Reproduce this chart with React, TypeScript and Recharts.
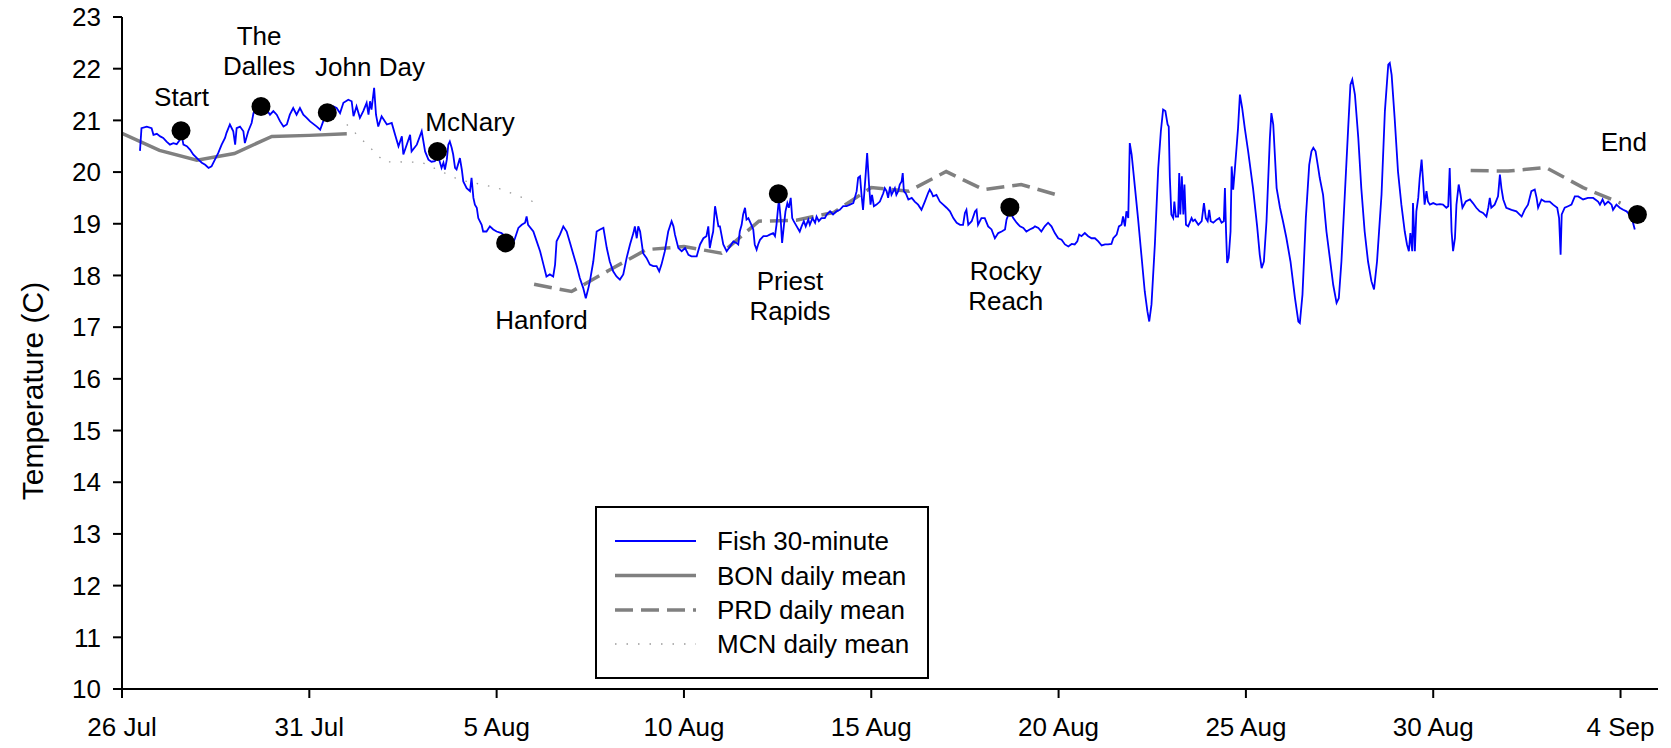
import React from "react";
import { ComposedChart, Line, Scatter, XAxis, YAxis } from "recharts";

const FONT = "'Liberation Sans', Arial, Helvetica, sans-serif";

// x = days since 26 Jul
const xTicks = [0, 5, 10, 15, 20, 25, 30, 35, 40];
const xTickLabels = ["26 Jul", "31 Jul", "5 Aug", "10 Aug", "15 Aug", "20 Aug", "25 Aug", "30 Aug", "4 Sep"];
const yTicks = [10, 11, 12, 13, 14, 15, 16, 17, 18, 19, 20, 21, 22, 23];

// Fish 30-minute temperature (day, temp)
const fishSeries: [number, number][] = [
  [0.48, 20.41], [0.52, 20.85], [0.66, 20.88], [0.79, 20.85], [0.84, 20.72], [0.93, 20.74], [1.02, 20.69], [1.10, 20.66],
  [1.19, 20.59], [1.28, 20.53], [1.37, 20.56], [1.46, 20.54], [1.55, 20.63], [1.59, 20.72], [1.64, 20.53], [1.73, 20.50],
  [1.82, 20.43], [1.90, 20.34], [2.04, 20.24], [2.13, 20.18], [2.22, 20.14], [2.31, 20.08], [2.39, 20.11], [2.48, 20.24],
  [2.57, 20.37], [2.66, 20.53], [2.75, 20.66], [2.79, 20.76], [2.88, 20.92], [2.97, 20.79], [3.02, 20.53], [3.06, 20.85],
  [3.15, 20.88], [3.24, 20.79], [3.28, 20.56], [3.37, 20.79], [3.46, 20.95], [3.51, 21.14], [3.60, 21.27], [3.68, 21.24],
  [3.77, 21.27], [3.86, 21.21], [3.95, 21.11], [4.04, 21.18], [4.13, 21.11], [4.22, 20.98], [4.31, 20.88], [4.40, 20.92],
  [4.48, 21.11], [4.57, 21.24], [4.66, 21.11], [4.75, 21.24], [4.84, 21.11], [4.93, 21.05], [5.02, 20.98], [5.20, 20.88],
  [5.29, 20.82], [5.37, 20.98], [5.46, 21.14], [5.64, 21.27], [5.73, 21.24], [5.82, 21.14], [5.91, 21.34], [6.04, 21.40],
  [6.13, 21.37], [6.18, 21.08], [6.26, 21.27], [6.35, 21.05], [6.44, 21.18], [6.53, 21.34], [6.58, 21.11], [6.62, 21.37],
  [6.66, 21.21], [6.73, 21.63], [6.78, 21.11], [6.84, 20.88], [6.93, 21.08], [7.07, 20.92], [7.20, 20.95], [7.29, 20.72],
  [7.38, 20.50], [7.47, 20.69], [7.51, 20.34], [7.60, 20.53], [7.69, 20.72], [7.73, 20.40], [7.87, 20.53], [8.00, 20.79],
  [8.09, 20.40], [8.18, 20.24], [8.26, 20.20], [8.35, 20.21], [8.44, 20.30], [8.53, 20.08], [8.58, 20.18], [8.62, 20.05],
  [8.67, 20.24], [8.71, 20.53], [8.75, 20.59], [8.80, 20.47], [8.84, 20.34], [8.89, 20.08], [8.93, 20.05], [9.02, 20.27],
  [9.07, 20.05], [9.11, 19.82], [9.20, 19.69], [9.29, 19.63], [9.33, 19.89], [9.38, 19.50], [9.42, 19.37], [9.47, 19.31],
  [9.51, 19.11], [9.60, 18.98], [9.64, 18.85], [9.73, 18.85], [9.82, 18.95], [9.91, 18.89], [10.00, 18.85], [10.13, 18.82],
  [10.22, 18.76], [10.31, 18.66], [10.40, 18.56], [10.49, 18.72], [10.58, 18.92], [10.67, 18.98], [10.76, 19.02], [10.80, 19.14],
  [10.84, 18.98], [10.98, 18.85], [11.07, 18.66], [11.16, 18.47], [11.25, 18.21], [11.33, 17.98], [11.42, 18.02], [11.51, 17.98],
  [11.56, 18.21], [11.60, 18.66], [11.69, 18.79], [11.78, 18.95], [11.87, 18.85], [11.96, 18.63], [12.05, 18.40], [12.14, 18.18],
  [12.22, 17.95], [12.31, 17.76], [12.38, 17.56], [12.45, 17.76], [12.49, 17.89], [12.58, 18.27], [12.67, 18.85], [12.76, 18.89],
  [12.85, 18.92], [12.94, 18.53], [13.02, 18.27], [13.11, 18.08], [13.20, 17.98], [13.29, 17.92], [13.38, 18.02], [13.47, 18.34],
  [13.56, 18.60], [13.65, 18.82], [13.69, 18.95], [13.74, 18.72], [13.78, 18.95], [13.83, 18.85], [13.91, 18.43], [14.00, 18.34],
  [14.09, 18.21], [14.18, 18.18], [14.27, 18.18], [14.34, 18.08], [14.40, 18.21], [14.49, 18.47], [14.58, 18.85], [14.67, 19.05],
  [14.72, 18.95], [14.76, 18.79], [14.85, 18.53], [14.94, 18.47], [15.03, 18.53], [15.12, 18.40], [15.20, 18.37], [15.34, 18.37],
  [15.43, 18.60], [15.52, 18.72], [15.60, 18.76], [15.65, 18.95], [15.69, 18.53], [15.74, 18.72], [15.78, 18.85], [15.83, 19.34],
  [15.92, 18.95], [15.96, 18.95], [16.05, 18.60], [16.14, 18.47], [16.23, 18.56], [16.32, 18.66], [16.40, 18.63], [16.45, 18.60],
  [16.49, 18.85], [16.54, 18.98], [16.58, 19.18], [16.63, 19.31], [16.67, 19.08], [16.72, 19.11], [16.80, 18.98], [16.85, 18.89],
  [16.89, 18.60], [16.94, 18.50], [16.98, 18.60], [17.03, 18.69], [17.12, 18.76], [17.21, 18.76], [17.29, 18.79], [17.38, 18.82],
  [17.43, 18.76], [17.47, 18.98], [17.52, 19.37], [17.54, 19.43], [17.58, 19.11], [17.62, 18.63], [17.67, 18.98], [17.71, 19.24],
  [17.76, 19.40], [17.80, 19.31], [17.85, 19.50], [17.89, 19.11], [17.93, 19.05], [18.01, 18.95], [18.09, 18.85], [18.14, 18.95],
  [18.20, 19.05], [18.25, 18.95], [18.32, 19.08], [18.36, 18.98], [18.43, 19.11], [18.50, 19.02], [18.54, 19.14], [18.60, 19.05],
  [18.67, 19.11], [18.76, 19.11], [18.81, 19.18], [18.90, 19.24], [18.98, 19.18], [19.07, 19.24], [19.16, 19.27], [19.25, 19.34],
  [19.34, 19.34], [19.43, 19.37], [19.52, 19.40], [19.56, 19.50], [19.61, 19.63], [19.65, 19.89], [19.70, 19.92], [19.74, 19.56],
  [19.78, 19.27], [19.85, 19.95], [19.89, 20.37], [19.94, 19.76], [19.98, 19.37], [20.02, 19.56], [20.07, 19.34], [20.14, 19.37],
  [20.23, 19.43], [20.32, 19.59], [20.36, 19.69], [20.41, 19.63], [20.45, 19.50], [20.50, 19.72], [20.54, 19.56], [20.59, 19.63],
  [20.63, 19.69], [20.67, 19.56], [20.72, 19.63], [20.76, 19.76], [20.81, 19.82], [20.84, 19.98], [20.87, 19.63], [20.92, 19.59],
  [20.99, 19.47], [21.08, 19.50], [21.16, 19.43], [21.25, 19.37], [21.34, 19.27], [21.43, 19.43], [21.52, 19.60], [21.56, 19.66],
  [21.61, 19.60], [21.65, 19.53], [21.74, 19.56], [21.83, 19.43], [21.92, 19.37], [22.01, 19.31], [22.10, 19.24], [22.19, 19.11],
  [22.28, 19.02], [22.37, 18.98], [22.45, 18.98], [22.50, 19.21], [22.54, 19.27], [22.59, 18.98], [22.68, 19.05], [22.77, 19.24],
  [22.81, 19.27], [22.85, 18.98], [22.94, 19.11], [23.03, 19.11], [23.12, 18.95], [23.21, 18.89], [23.30, 18.72], [23.39, 18.82],
  [23.48, 18.85], [23.57, 18.89], [23.61, 19.08], [23.66, 19.18], [23.70, 19.34], [23.74, 19.18], [23.79, 19.11], [23.88, 19.02],
  [23.97, 18.95], [24.06, 18.92], [24.14, 18.85], [24.23, 18.89], [24.32, 18.92], [24.37, 18.95], [24.46, 18.92], [24.54, 18.85],
  [24.63, 18.95], [24.72, 19.02], [24.81, 18.95], [24.90, 18.82], [24.99, 18.72], [25.08, 18.69], [25.17, 18.60], [25.26, 18.56],
  [25.35, 18.61], [25.43, 18.60], [25.50, 18.66], [25.55, 18.79], [25.61, 18.76], [25.70, 18.82], [25.79, 18.76], [25.88, 18.72],
  [25.97, 18.72], [26.06, 18.66], [26.15, 18.58], [26.24, 18.60], [26.32, 18.60], [26.41, 18.61], [26.46, 18.72], [26.55, 18.79],
  [26.61, 18.95], [26.68, 18.98], [26.72, 19.14], [26.77, 18.95], [26.81, 19.24], [26.86, 19.11], [26.90, 20.56], [26.95, 20.34],
  [27.04, 19.69], [27.12, 19.11], [27.21, 18.40], [27.30, 17.69], [27.37, 17.31], [27.42, 17.11], [27.48, 17.44], [27.57, 18.60],
  [27.66, 20.08], [27.73, 20.79], [27.79, 21.21], [27.85, 21.18], [27.91, 20.92], [27.94, 20.88], [27.97, 19.89], [28.01, 19.18],
  [28.06, 19.11], [28.09, 19.43], [28.13, 19.14], [28.19, 19.14], [28.22, 19.98], [28.25, 19.18], [28.29, 19.92], [28.33, 19.18],
  [28.36, 19.76], [28.40, 18.98], [28.46, 18.95], [28.55, 19.11], [28.59, 19.05], [28.64, 19.08], [28.73, 18.98], [28.82, 19.05],
  [28.88, 19.40], [28.93, 19.11], [28.98, 19.05], [29.02, 19.27], [29.06, 19.05], [29.13, 19.02], [29.22, 19.08], [29.29, 19.11],
  [29.35, 19.02], [29.41, 19.05], [29.44, 19.69], [29.47, 18.85], [29.50, 18.24], [29.54, 18.34], [29.59, 18.85], [29.62, 20.11],
  [29.66, 19.66], [29.70, 20.01], [29.75, 20.47], [29.79, 20.85], [29.84, 21.50], [29.90, 21.24], [29.97, 20.85], [30.06, 20.40],
  [30.19, 19.69], [30.30, 18.95], [30.37, 18.40], [30.42, 18.14], [30.48, 18.27], [30.55, 19.05], [30.64, 20.66], [30.68, 21.14],
  [30.73, 20.92], [30.82, 19.69], [30.91, 19.31], [30.99, 19.05], [31.08, 18.73], [31.19, 18.27], [31.31, 17.56], [31.40, 17.11],
  [31.44, 17.08], [31.51, 17.63], [31.60, 19.11], [31.69, 20.14], [31.75, 20.40], [31.80, 20.47], [31.86, 20.40], [31.93, 20.08],
  [31.97, 19.89], [32.06, 19.56], [32.15, 18.85], [32.24, 18.34], [32.33, 17.82], [32.42, 17.47], [32.48, 17.56], [32.55, 18.27],
  [32.64, 19.56], [32.73, 20.85], [32.79, 21.69], [32.84, 21.79], [32.91, 21.50], [33.00, 20.66], [33.08, 19.69], [33.17, 18.85],
  [33.26, 18.27], [33.35, 17.89], [33.42, 17.73], [33.50, 18.27], [33.62, 19.56], [33.71, 21.18], [33.80, 22.08], [33.84, 22.11],
  [33.89, 21.88], [33.97, 21.05], [34.06, 20.01], [34.15, 19.37], [34.24, 18.85], [34.30, 18.60], [34.35, 18.47], [34.39, 18.82],
  [34.44, 18.47], [34.46, 19.40], [34.51, 18.47], [34.55, 19.24], [34.60, 19.50], [34.64, 19.89], [34.69, 20.24], [34.73, 19.82],
  [34.77, 19.37], [34.82, 19.63], [34.86, 19.43], [34.91, 19.37], [35.00, 19.40], [35.09, 19.37], [35.18, 19.38], [35.26, 19.37],
  [35.35, 19.31], [35.40, 19.34], [35.44, 20.08], [35.49, 18.85], [35.53, 18.47], [35.58, 18.72], [35.62, 19.37], [35.68, 19.76],
  [35.73, 19.56], [35.78, 19.31], [35.87, 19.43], [35.98, 19.47], [36.06, 19.40], [36.15, 19.31], [36.24, 19.24], [36.33, 19.21],
  [36.42, 19.14], [36.47, 19.31], [36.51, 19.50], [36.55, 19.31], [36.64, 19.37], [36.73, 19.53], [36.78, 19.95], [36.82, 19.69],
  [36.87, 19.47], [36.95, 19.31], [37.09, 19.27], [37.22, 19.24], [37.36, 19.14], [37.44, 19.27], [37.53, 19.37], [37.62, 19.63],
  [37.71, 19.66], [37.76, 19.50], [37.80, 19.31], [37.89, 19.47], [37.98, 19.43], [38.11, 19.43], [38.20, 19.37], [38.31, 19.31],
  [38.36, 19.11], [38.40, 18.40], [38.43, 19.18], [38.51, 19.31], [38.60, 19.34], [38.69, 19.37], [38.78, 19.53], [38.87, 19.53],
  [39.00, 19.47], [39.13, 19.50], [39.27, 19.50], [39.40, 19.43], [39.45, 19.37], [39.52, 19.47], [39.58, 19.37], [39.67, 19.43],
  [39.76, 19.37], [39.80, 19.27], [39.89, 19.37], [39.98, 19.31], [40.07, 19.27], [40.16, 19.24], [40.29, 19.14], [40.38, 18.89],
];

// Bonneville daily mean
const bonDays = [0, 1, 2, 3, 4, 5, 6];
const bonTemps = [20.75, 20.42, 20.23, 20.36, 20.69, 20.71, 20.74];

// McNary daily mean
const mcnDays = [6, 7, 8, 9, 10, 11];
const mcnTemps = [20.92, 20.2, 20.19, 19.85, 19.7, 19.42];

// Priest Rapids daily mean (two periods)
const prdDays1 = [11, 12, 13, 14, 15, 16, 17, 18, 19, 20, 21, 22, 23, 24, 25];
const prdTemps1 = [17.83, 17.69, 18.1, 18.5, 18.56, 18.43, 19.05, 19.07, 19.22, 19.7, 19.63, 20.01, 19.66, 19.76, 19.55];
const prdDays2 = [36, 37, 38, 39, 40];
const prdTemps2 = [20.03, 20.02, 20.09, 19.7, 19.4];

// Site markers
const siteNames = ["Start", "The Dalles", "John Day", "McNary", "Hanford", "Priest Rapids", "Rocky Reach", "End"];
const siteDays = [1.575, 3.71, 5.48, 8.42, 10.24, 17.52, 23.7, 40.45];
const siteTemps = [20.8, 21.27, 21.15, 20.4, 18.63, 19.58, 19.32, 19.18];
// Label anchor positions (data coords, centre of the text block)
const labelDays = [1.59, 3.66, 6.62, 9.29, 11.2, 17.83, 23.59, 40.09];
const labelTemps = [21.46, 22.34, 22.04, 20.98, 17.15, 17.61, 17.79, 20.59];

const zip = (d: number[], t: number[]) => d.map((day, i) => ({ day, temp: t[i] }));
const fishData = fishSeries.map(([day, temp]) => ({ day, temp }));
const bonData = zip(bonDays, bonTemps);
const mcnData = zip(mcnDays, mcnTemps);
const prdData1 = zip(prdDays1, prdTemps1);
const prdData2 = zip(prdDays2, prdTemps2);
const siteData = siteDays.map((day, i) => ({ day, temp: siteTemps[i] }));
const labelData = labelDays.map((day, i) => ({ day, temp: labelTemps[i], name: siteNames[i] }));

const labelLines: Record<string, string[]> = {
  "The Dalles": ["The", "Dalles"],
  "Priest Rapids": ["Priest", "Rapids"],
  "Rocky Reach": ["Rocky", "Reach"],
};

const W = 1671;
const H = 748;
const TXT = 26;

const DotShape = (p: any) => <circle cx={p.cx} cy={p.cy} r={9.5} fill="#000" />;

const LabelShape = (p: any) => {
  const name: string = p.payload.name;
  const lines = labelLines[name] || [name];
  const lh = 30;
  const start = -((lines.length - 1) * lh) / 2;
  return (
    <text x={p.cx} y={p.cy} textAnchor="middle" fontFamily={FONT} fontSize={TXT} fill="#000">
      {lines.map((l, i) => (
        <tspan key={i} x={p.cx} y={p.cy + start + i * lh} dy="0.35em">
          {l}
        </tspan>
      ))}
    </text>
  );
};

const tickStyle = { fontFamily: FONT, fontSize: TXT, fill: "#000" };

export default function App() {
  return (
    <div style={{ position: "absolute", left: 0, top: 0, width: W, height: H, background: "#fff" }}>
      <ComposedChart width={W} height={H} margin={{ top: 17, right: 13, bottom: 0, left: 0 }}>
        <XAxis
          type="number"
          dataKey="day"
          domain={[0, 41]}
          ticks={xTicks}
          tickFormatter={(v: number) => xTickLabels[xTicks.indexOf(v)]}
          allowDataOverflow
          height={59}
          tickSize={9}
          tickMargin={20}
          tick={tickStyle}
          axisLine={{ stroke: "#000", strokeWidth: 2 }}
          tickLine={{ stroke: "#000", strokeWidth: 2 }}
          interval={0}
        />
        <XAxis xAxisId="top" orientation="top" type="number" domain={[0, 41]} height={0} tick={false} tickLine={false}
          axisLine={{ stroke: "#000", strokeWidth: 2 }} />
        <YAxis
          type="number"
          domain={[10, 23]}
          ticks={yTicks}
          allowDataOverflow
          width={122}
          tickSize={9}
          tickMargin={12}
          tick={tickStyle}
          axisLine={{ stroke: "#000", strokeWidth: 2 }}
          tickLine={{ stroke: "#000", strokeWidth: 2 }}
          interval={0}
        />
        <YAxis yAxisId="right" orientation="right" type="number" domain={[10, 23]} width={0} tick={false} tickLine={false}
          axisLine={{ stroke: "#000", strokeWidth: 2 }} />
        <Line data={bonData} dataKey="temp" stroke="#808080" strokeWidth={3.5} dot={false} isAnimationActive={false} />
        <Line data={mcnData} dataKey="temp" stroke="#9a9a9a" strokeWidth={1.3} strokeDasharray="1.5 10" dot={false} isAnimationActive={false} />
        <Line data={prdData1} dataKey="temp" stroke="#808080" strokeWidth={3.5} strokeDasharray="18 8" dot={false} isAnimationActive={false} />
        <Line data={prdData2} dataKey="temp" stroke="#808080" strokeWidth={3.5} strokeDasharray="18 8" dot={false} isAnimationActive={false} />
        <Line data={fishData} dataKey="temp" stroke="#0000ff" strokeWidth={1.8} dot={false} isAnimationActive={false} />
        <Scatter data={siteData} dataKey="temp" shape={DotShape} isAnimationActive={false} />
        <Scatter data={labelData} dataKey="temp" shape={LabelShape} isAnimationActive={false} />
      </ComposedChart>
      <svg width={W} height={H} style={{ position: "absolute", left: 0, top: 0, pointerEvents: "none" }}>
        <text
          x={32}
          y={391}
          transform="rotate(-90 32 391)"
          textAnchor="middle"
          dominantBaseline="central"
          fontFamily={FONT}
          fontSize={30}
          fill="#000"
        >
          Temperature (C)
        </text>
        <g>
          <rect x={596} y={507} width={332} height={171} fill="#fff" stroke="#000" strokeWidth={2} />
          <line x1={615} x2={696} y1={541} y2={541} stroke="#0000ff" strokeWidth={1.8} />
          <line x1={615} x2={696} y1={575.5} y2={575.5} stroke="#808080" strokeWidth={3.5} />
          <line x1={615} x2={696} y1={610} y2={610} stroke="#808080" strokeWidth={3.5} strokeDasharray="18 8" />
          <line x1={615} x2={696} y1={644} y2={644} stroke="#9a9a9a" strokeWidth={1.3} strokeDasharray="1.5 10" />
          {["Fish 30-minute", "BON daily mean", "PRD daily mean", "MCN daily mean"].map((t, i) => (
            <text key={t} x={717} y={[541, 575.5, 610, 644][i]} dy="0.35em" fontFamily={FONT} fontSize={TXT} fill="#000">
              {t}
            </text>
          ))}
        </g>
      </svg>
    </div>
  );
}
